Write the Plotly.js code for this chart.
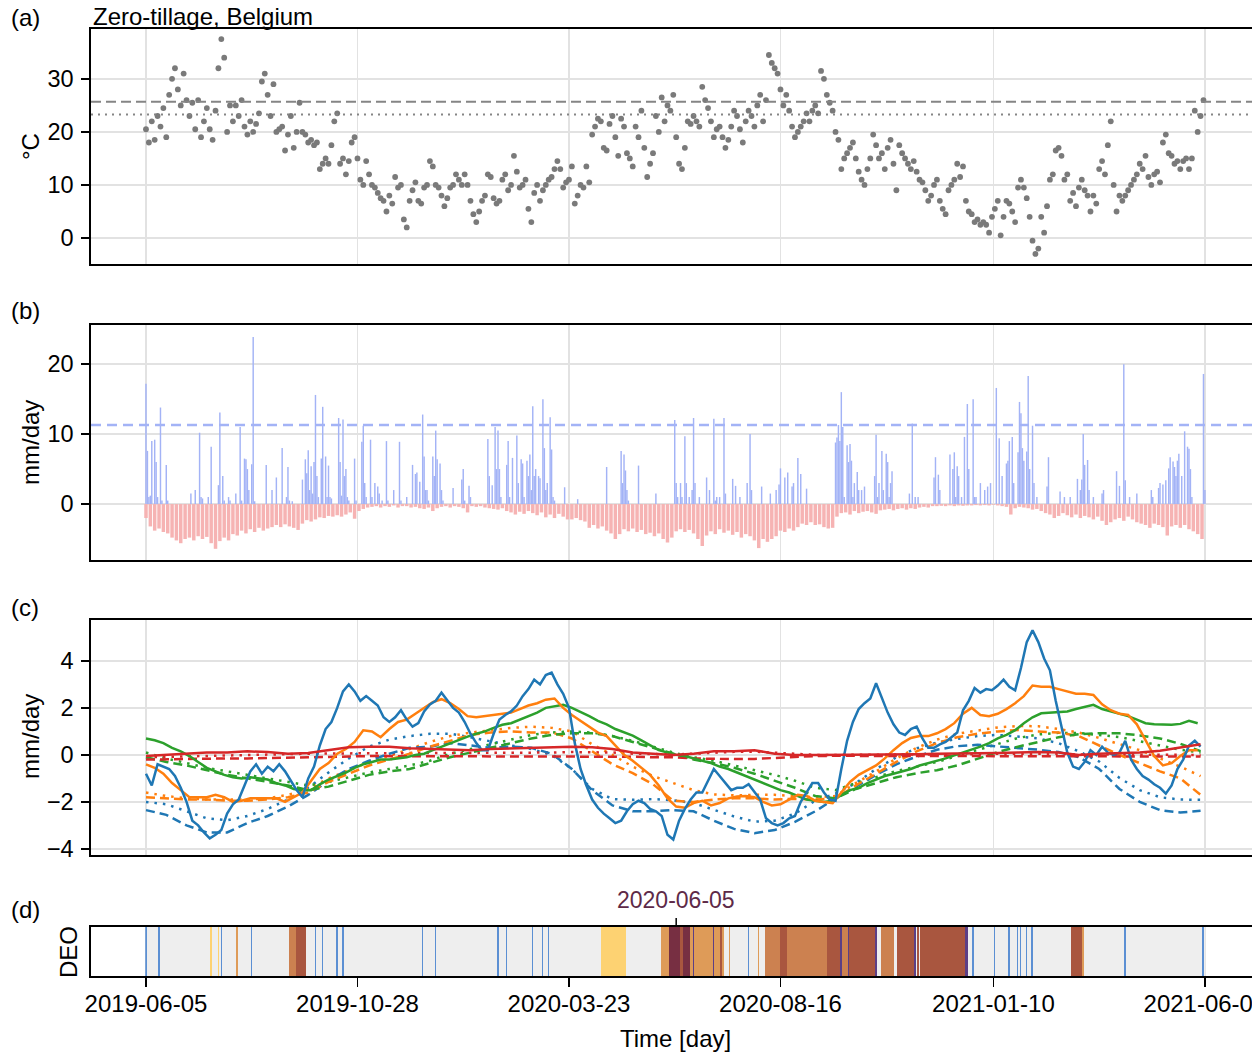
<!DOCTYPE html>
<html>
<head>
<meta charset="utf-8">
<script src="https://cdn.plot.ly/plotly-3.0.1.min.js"></script>
<style>
html,body{margin:0;padding:0;background:#fff;overflow:hidden;}
#chart{width:1252px;height:1052px;}
</style>
</head>
<body>
<div id="chart"></div>
<script>
// ---------------- DATA ----------------
// x values are days since 2019-06-05
const tickDays = [0, 146, 292, 438, 585, 731];
const tickLabels = ['2019-06-05', '2019-10-28', '2020-03-23', '2020-08-16', '2021-01-10', '2021-06-05'];

// (a) daily air temperature, sampled every 2 days
const tempStep = 2;
const tempC = [
20.5,18,22,18.5,23,21,24.5,19,27,30,
32,28,25,31,26,23,25.5,20.5,26,19,
22,24.5,20.5,18.5,24,32,37.5,34,20,25,
22,25,23,26,21,19.5,22,20,21.5,23.5,
29.5,31,27,23,29,20,20.5,21,16.5,19.5,
23,17,20,25.5,20,19.5,18,18.5,17.5,18,
13,14,15,14,17.5,22,23.5,14,15,12,
14.5,18,19,15,11,10,14.5,12,10,9.5,
8.5,7.5,7,5,8,6.5,11.5,9.5,10,3.5,
2,7,9,10.5,7,6.5,9.5,10,14.5,13.5,
10,9.5,8,6,7.5,9.5,10,12,11,10,
12,10,7,4.5,3,5,7,8,12,11.5,
7.5,6.5,7,11,12,9,10,15.5,12.5,9.5,
10,11,5.5,3,8.5,10,7,9,10,11,
11.5,13,14.5,13,9.5,10.5,11,13.5,6.5,8,
10,9.5,13.5,10.5,19.5,21,22.5,22,17,16.5,
21.5,23,19,15.5,22.5,21,16,15,13.5,21,
19,24,17,11.5,14,16,23,20,26.5,22,
25,24,27,19,14,13,17,22,21.5,23,
22,21,28.5,26,24.5,22,19,20.5,21,19,
17,18.5,21,24,23,20.5,18,22,24,23,
21,25,27,22,26,34.5,33,32,31,28,
25,27,24,21,19,20,21,22,23.5,22,
24,25,23.5,31.5,30,27,25.5,24,20,18.5,
13,15,16,17,18,15,12.5,11,10,13,
15,19.5,17.5,15,16,13,17,18.5,14,9,
17.5,16,15,14,13,14.5,12.5,11,10.5,9,
7,8,10,11,7,5.5,4.5,9,10,11,
14,11.5,13.5,7,5,4.5,3,3.5,2.5,3,
2.5,1,4,5.5,7,0.5,4,7,6.5,5,
3,9.5,11,9.5,7.5,4,-0.5,-3,-2,4,
1,6,11,12,16.5,17,15.5,11,12,7,
8.5,6,9.5,11,9,8,5,8,6.5,13,
14.5,12,17.5,22,10,5,8,7,8,9,
10,11,12,14,13,15.5,11.5,10,12,12.5,
10.5,18,19.5,16,15.5,14,14.5,13,14.5,15,
13,15,24,20,23,26
];
const tempUpper = 25.7;
const tempLower = 23.3;

// (b) precipitation events [day, mm/day]
const rainEvents = [
[0,17.2],[1,7.6],[2,1.0],[3,1.2],[4,9.0],[6,9.2],[7,6.0],[8,1.0],[10,13.8],[11,0.5],[14,5.6],[15,0.5],
[31,1.5],[34,2.0],[37,10.2],[38,1.0],[39,0.8],[43,1.0],[45,8.2],[50,2.7],[51,13.1],[53,4.0],[54,0.5],[57,1.0],[58,0.5],[62,1.5],[65,11.0],[66,0.5],[68,6.5],[69,6.4],[70,5.0],[71,2.0],[73,5.7],[74,23.9],[75,0.4],
[83,5.6],[87,2.0],[90,3.8],[94,8.0],[97,1.0],[98,5.3],[99,0.5],[101,0.4],
[108,3.5],[110,6.4],[111,4.4],[112,7.7],[113,2.0],[114,5.4],[115,1.5],[116,6.0],[117,15.6],[118,4.0],[119,1.0],[121,6.5],[122,13.9],[124,6.8],[125,1.0],[126,5.5],[127,1.0],[128,0.8],
[133,12.3],[134,6.0],[135,1.2],[136,12.1],[137,4.0],[138,5.0],[139,1.0],[140,0.5],[144,6.5],[145,0.5],[149,8.9],[150,11.2],[151,3.0],[152,1.0],[155,9.2],[156,1.0],[158,3.0],[160,2.5],[161,1.5],[163,0.5],[166,9.0],[167,0.5],[171,2.0],[175,8.9],[176,0.5],[180,1.0],
[184,5.6],[186,4.3],[187,4.5],[189,3.2],[191,12.8],[192,6.8],[193,2.0],[194,2.0],[195,0.5],[198,6.8],[199,4.0],[200,10.5],[201,6.4],[203,5.8],[204,2.0],[205,0.5],
[212,2.3],[218,3.5],[219,5.0],[220,0.5],[223,2.6],[224,1.0],
[236,9.3],[237,4.0],[239,2.7],[241,11.0],[242,5.0],[243,10.5],[244,5.0],[245,1.0],[249,5.6],[250,9.0],[251,1.0],[253,6.6],[256,9.8],[257,3.0],[259,6.4],[260,5.8],[261,1.0],[263,6.2],[264,4.0],[265,7.1],[266,2.0],[267,14.0],[268,4.0],[269,5.0],[271,4.0],[272,3.7],[274,15.0],[275,8.0],[276,2.0],[277,3.0],[279,12.4],[280,7.8],[281,1.0],[282,0.5],[289,2.4],[298,0.7],
[318,5.3],[328,7.6],[329,3.0],[330,7.1],[331,4.8],[332,2.0],[333,0.5],[340,5.5],[352,1.5],
[365,12.0],[366,3.0],[367,1.0],[369,3.0],[370,1.0],[372,9.7],[373,3.0],[375,1.0],[377,2.0],[378,12.3],[379,3.0],[382,1.0],
[387,3.8],[389,2.0],[392,12.2],[393,0.5],[394,1.0],[396,1.0],[399,12.3],[400,1.5],[405,3.6],[407,2.6],[410,1.0],[415,3.0],[417,10.0],[418,2.0],[425,2.5],[431,1.5],
[435,2.0],[437,2.8],[438,5.1],[441,3.8],[443,4.5],[446,2.5],[447,3.0],[450,6.6],[452,4.3],[456,2.2],
[476,8.8],[477,9.5],[478,11.3],[479,9.0],[480,16.0],[481,11.0],[482,1.0],[484,8.4],[485,6.0],[486,8.6],[487,6.2],[488,1.0],[489,3.0],[491,4.6],[492,2.0],[494,2.0],[496,2.5],
[503,4.0],[504,9.9],[505,1.0],[506,3.0],[508,7.6],[509,2.0],[511,7.2],[512,6.0],[513,1.0],[514,3.0],[515,4.7],[527,1.5],[529,11.5],[531,1.0],[533,1.0],
[544,3.8],[545,6.7],[547,4.2],[548,2.0],[555,7.1],[557,5.0],[558,7.4],[559,1.0],[560,5.4],[561,4.0],[563,1.0],[565,9.6],[567,14.3],[568,5.0],[571,15.0],[572,1.0],[573,1.0],[576,3.0],[579,2.0],[581,2.5],[583,3.0],
[587,16.6],[589,9.4],[591,4.0],[594,5.8],[595,6.2],[596,9.0],[598,9.6],[599,3.0],[602,7.4],[603,14.6],[604,13.0],[605,8.0],[606,6.2],[608,7.5],[609,18.3],[610,5.0],[612,11.2],[613,3.0],[615,1.0],
[622,2.5],[623,6.7],[631,1.8],[634,1.0],[638,1.0],[643,3.6],[645,2.0],[646,3.5],[647,10.0],[648,5.6],[650,6.3],[651,2.0],[654,1.0],[660,1.5],[661,2.0],
[670,4.7],[672,2.6],[675,20.0],[676,3.4],[679,1.0],[684,1.5],[694,2.0],[695,1.0],[699,2.3],[700,3.0],[702,2.8],[704,3.4],[706,5.1],[707,6.7],[709,6.1],[710,5.3],[711,4.0],[712,6.2],[713,7.2],[715,4.0],[717,10.4],[719,8.2],[720,7.9],[721,5.0],[722,1.0],[730,18.6],[731,2.0]
];
const rainThreshold = 11.3;

// (b) evapotranspiration (negative), sampled every 3 days
const etStep = 3;
const etMm = [
-2.0,-3.2,-3.8,-3.5,-4.0,-4.2,-4.8,-5.2,-5.6,-5.0,
-4.8,-5.2,-4.6,-5.0,-4.7,-5.6,-6.4,-5.3,-4.8,-5.2,
-4.3,-4.5,-3.8,-4.2,-3.6,-4.0,-3.4,-3.8,-3.5,-3.3,
-3.0,-3.3,-2.9,-3.2,-3.4,-3.7,-2.8,-2.3,-2.5,-2.2,
-1.9,-2.0,-1.7,-1.8,-1.6,-1.8,-1.5,-1.2,-2.1,-1.0,
-0.7,-0.5,-0.4,-0.3,-0.5,-0.3,-0.4,-0.2,-0.5,-0.3,
-0.3,-0.5,-0.4,-0.6,
-0.7,-0.5,-1.0,-0.6,-0.4,-0.3,-0.5,-0.3,-0.4,-0.6,
-1.2,-0.3,-0.4,-0.3,-0.5,-0.6,-0.7,-0.8,-0.6,-1.0,
-1.2,-1.5,-1.1,-1.4,-1.0,-1.3,-1.6,-1.2,-1.9,-1.5,
-2.0,-1.4,-1.8,-2.2,-2.2,-2.0,-2.3,-2.5,-3.4,-3.0,
-3.5,-3.2,-3.8,-4.2,-5.0,-4.3,-3.6,-3.9,-3.5,-4.0,
-3.7,-4.3,-4.1,-4.6,-4.2,-5.0,-5.5,-4.8,-3.9,-3.6,
-4.0,-3.7,-4.2,-5.0,-6.0,-4.5,-3.9,-4.3,-3.6,-4.1,
-3.8,-4.4,-4.0,-4.8,-4.3,-4.6,-5.2,-6.3,-5.0,-5.4,
-5.0,-4.6,-3.8,-4.0,-3.5,-3.8,-3.3,
-2.8,-3.0,-2.6,-3.0,-2.9,-3.3,-3.5,-3.4,-1.8,-1.3,
-1.2,-1.5,-1.0,-1.3,-1.1,-1.0,-1.2,-1.4,-0.9,-0.8,
-0.7,-0.9,-0.7,-0.6,-0.8,-0.6,-0.7,-0.5,-0.4,-0.5,
-0.3,-0.3,-0.25,-0.3,-0.2,-0.3,-0.2,-0.25,-0.2,-0.2,
-0.15,-0.2,-0.15,-0.2,-0.1,-0.2,-0.3,-0.4,-1.5,-0.6,
-0.4,-0.5,-0.6,-0.8,-0.7,-1.0,-1.3,-1.5,-2.0,-1.7,
-1.3,-1.6,-1.9,-1.5,-2.0,-1.7,-1.9,-2.2,-1.8,-2.4,
-3.0,-2.6,-2.2,-2.0,-2.4,-1.8,-2.2,-2.6,-2.8,-3.0,
-3.4,-2.8,-3.0,-3.3,-4.5,-3.2,-3.0,-3.4,-3.0,-3.6,
-3.9,-4.3,-5.0
];

// (c) water-balance series, mm/day
const blueSolidStep = 4;
const blueSolid = [
-0.8,-1.3,-0.4,-0.5,-0.6,-0.9,-1.4,-2.0,-2.8,-3.0,
-3.3,-3.55,-3.4,-3.2,-2.5,-2.1,-1.9,-1.3,-0.7,-0.4,
-0.8,-0.5,-0.7,-0.4,-0.7,-1.1,-1.5,-1.8,-1.0,-0.5,
0.4,1.1,1.4,2.0,2.7,3.0,2.7,2.3,2.5,2.3,
2.1,1.6,1.4,1.6,1.9,1.5,1.2,1.35,1.85,2.15,
2.3,2.65,2.3,2.0,1.8,1.4,0.9,0.5,0.2,0.2,
0.9,1.5,1.7,1.85,2.1,2.5,2.8,3.2,3.0,3.4,
3.5,3.0,2.6,2.0,0.5,-0.6,-1.3,-1.9,-2.25,-2.5,
-2.7,-2.9,-2.8,-2.4,-2.1,-1.95,-2.05,-2.3,-2.4,-2.6,
-3.4,-3.6,-2.8,-2.3,-1.9,-1.6,-1.6,-1.1,-0.6,-0.9,
-1.2,-1.5,-1.4,-1.4,-1.25,-1.6,-1.9,-2.7,-2.9,-3.0,
-2.9,-2.7,-2.6,-2.0,-1.6,-1.2,-1.2,-1.6,-1.9,-1.95,
-0.6,0.6,1.4,1.95,2.2,2.4,3.05,2.4,1.8,1.3,
0.95,0.85,1.1,1.2,0.7,0.3,0.3,0.45,0.55,0.75,
0.95,1.9,2.3,2.85,2.65,2.8,2.75,2.95,3.2,2.9,
2.75,3.7,4.8,5.3,4.8,4.1,3.6,2.3,1.2,0.1,
-0.5,-0.6,-0.3,0.2,0.0,0.35,0.1,0.0,0.1,0.6,
-0.2,-0.6,-0.9,-1.05,-1.25,-1.4,-1.65,-1.3,-0.6,-0.2,
0.4,0.6,0.35
];
const midSolidStep = 6;
const orangeSolid = [
-0.4,-0.55,-0.8,-1.2,-1.5,-1.8,-1.8,-1.8,-1.7,-1.8,
-2.0,-1.95,-1.85,-1.85,-1.85,-1.85,-2.0,-1.8,-1.6,-1.1,
-0.6,-0.35,0.05,0.25,0.55,1.05,1.0,0.75,1.1,1.4,
1.5,1.75,2.0,2.25,2.37,2.2,1.95,1.65,1.6,1.65,
1.7,1.75,1.8,1.95,2.1,2.2,2.35,2.4,2.0,1.7,
1.45,1.2,0.95,0.8,0.4,0.0,-0.25,-0.55,-0.85,-1.3,
-1.85,-2.2,-2.25,-2.05,-1.95,-2.15,-2.05,-1.85,-1.77,-1.75,
-1.8,-2.0,-2.15,-2.1,-1.9,-1.7,-1.75,-1.95,-2.0,-2.05,
-1.6,-1.15,-0.85,-0.65,-0.45,-0.15,0.2,0.5,0.72,0.8,
0.8,0.92,1.1,1.35,1.75,2.0,1.7,1.65,1.75,1.95,
2.2,2.5,2.95,2.9,2.9,2.8,2.7,2.6,2.6,2.55,
2.15,1.9,1.75,1.7,1.3,0.6,-0.05,-0.45,-0.35,-0.05,
0.2,0.2
];
const greenSolid = [
0.7,0.62,0.5,0.3,0.15,-0.05,-0.3,-0.55,-0.7,-0.85,
-0.95,-1.0,-0.95,-1.0,-1.05,-1.2,-1.3,-1.45,-1.5,-1.5,
-1.25,-1.05,-0.9,-0.75,-0.55,-0.4,-0.3,-0.2,-0.2,-0.15,
-0.1,0.0,0.05,0.2,0.35,0.5,0.65,0.78,0.9,1.0,
1.15,1.28,1.35,1.5,1.65,1.8,2.0,2.08,2.13,2.0,
1.84,1.65,1.45,1.3,1.1,0.95,0.82,0.62,0.4,0.2,
0.1,0.0,-0.05,-0.15,-0.25,-0.35,-0.5,-0.6,-0.75,-0.9,
-1.05,-1.2,-1.35,-1.5,-1.6,-1.75,-1.9,-1.95,-2.0,-1.95,
-1.7,-1.5,-1.4,-1.2,-1.05,-0.9,-0.8,-0.7,-0.6,-0.45,
-0.35,-0.27,-0.15,-0.02,0.1,0.2,0.35,0.5,0.7,0.85,
1.05,1.35,1.6,1.77,1.8,1.8,1.85,1.95,2.05,2.13,
1.95,1.85,1.72,1.65,1.5,1.35,1.3,1.28,1.28,1.32,
1.45,1.35
];
const smoothStep = 14;
const redSolid = [
-0.05,0.0,0.05,0.1,0.1,0.15,0.12,0.05,0.08,0.2,
0.33,0.35,0.35,0.28,0.25,0.22,0.2,0.25,0.27,0.3,
0.33,0.35,0.32,0.25,0.1,0.05,0.0,0.05,0.15,0.15,
0.2,0.05,0.0,0.0,0.0,0.0,0.0,0.02,0.03,0.05,
0.05,0.07,0.08,0.1,0.12,0.1,0.0,0.05,0.08,0.1,
0.18,0.33,0.45
];
const blueDashed = [
-2.35,-2.55,-3.0,-3.3,-3.3,-2.9,-2.6,-2.2,-1.7,-1.1,
-0.6,-0.25,0.05,0.3,0.35,0.5,0.4,0.3,0.35,0.3,
0.05,-0.6,-1.5,-2.15,-2.4,-2.4,-2.35,-2.4,-2.8,-3.15,
-3.33,-3.2,-2.85,-2.4,-1.85,-1.35,-0.85,-0.4,-0.07,0.22,
0.37,0.43,0.36,0.3,0.22,0.12,-0.1,-0.6,-1.45,-2.0,
-2.35,-2.45,-2.38
];
const blueDotted = [
-2.0,-2.1,-2.4,-2.7,-2.78,-2.6,-2.3,-1.9,-1.4,-0.75,
-0.15,0.35,0.65,0.8,0.9,0.9,0.75,0.57,0.4,0.25,
0.0,-0.6,-1.45,-1.88,-1.91,-1.88,-1.93,-2.05,-2.35,-2.62,
-2.84,-2.8,-2.5,-1.95,-1.65,-1.2,-0.6,-0.1,0.28,0.52,
0.68,0.8,0.85,0.78,0.7,0.5,0.15,-0.28,-0.98,-1.5,
-1.8,-1.9,-1.91
];
const orangeDashed = [
-1.8,-1.85,-1.9,-1.9,-1.95,-1.95,-1.9,-1.8,-1.6,-1.15,
-0.8,-0.45,-0.2,0.05,0.35,0.6,0.85,0.95,1.0,0.95,
0.95,0.7,0.15,-0.4,-0.78,-1.25,-1.95,-2.0,-1.9,-1.85,
-1.85,-1.9,-1.87,-1.9,-1.85,-1.3,-0.8,-0.3,0.15,0.5,
0.75,0.9,1.0,1.06,1.0,0.95,0.8,0.4,0.0,-0.35,
-0.7,-1.0,-1.7
];
const orangeDotted = [
-1.6,-1.75,-1.85,-1.9,-1.9,-1.9,-1.85,-1.7,-1.45,-1.0,
-0.65,-0.3,-0.05,0.25,0.55,0.8,0.95,1.05,1.15,1.2,
1.15,1.0,0.45,0.0,-0.5,-0.9,-1.2,-1.5,-1.68,-1.72,
-1.7,-1.7,-1.75,-1.8,-1.75,-1.2,-0.7,-0.15,0.3,0.65,
0.9,1.05,1.17,1.23,1.22,1.1,0.95,0.72,0.45,0.2,
-0.15,-0.5,-0.9
];
const greenDashed = [
-0.1,-0.3,-0.45,-0.65,-0.85,-1.0,-1.15,-1.3,-1.5,-1.35,
-1.1,-0.85,-0.7,-0.6,-0.35,-0.1,0.1,0.3,0.5,0.7,
0.85,0.92,0.92,0.8,0.55,0.3,0.05,-0.2,-0.35,-0.55,
-0.8,-1.1,-1.4,-1.75,-1.85,-1.45,-1.2,-0.95,-0.78,-0.65,
-0.45,-0.15,0.12,0.35,0.55,0.75,0.88,0.92,0.92,0.83,
0.7,0.47,0.16
];
const greenDotted = [
0.1,-0.15,-0.35,-0.55,-0.7,-0.85,-1.0,-1.15,-1.3,-1.15,
-0.95,-0.75,-0.6,-0.45,-0.25,0.05,0.25,0.45,0.65,0.85,
0.95,1.0,0.95,0.8,0.6,0.35,0.1,-0.1,-0.25,-0.45,
-0.65,-0.85,-1.1,-1.4,-1.5,-1.2,-0.95,-0.68,-0.5,-0.3,
-0.05,0.2,0.48,0.72,0.87,0.94,0.93,0.85,0.76,0.58,
0.4,0.22,0.1
];
const redDashed = [
-0.2,-0.18,-0.18,-0.17,-0.15,-0.15,-0.14,-0.13,-0.12,-0.1,
-0.07,-0.05,-0.05,-0.07,-0.07,-0.07,-0.06,-0.05,-0.05,-0.05,
-0.06,-0.07,-0.07,-0.07,-0.08,-0.1,-0.1,-0.15,-0.18,-0.18,
-0.17,-0.12,-0.07,-0.05,-0.04,-0.04,-0.04,-0.04,-0.04,-0.04,
-0.04,-0.05,-0.05,-0.05,-0.05,-0.06,-0.06,-0.07,-0.07,-0.07,
-0.07,-0.07,-0.07
];
const redDotted = [
-0.1,-0.08,-0.05,-0.02,0.0,0.02,0.03,0.04,0.05,0.06,
0.07,0.08,0.08,0.08,0.08,0.08,0.08,0.09,0.1,0.1,
0.1,0.12,0.12,0.1,0.05,0.03,0.02,0.05,0.1,0.13,
0.14,0.1,0.03,0.0,0.0,0.0,0.0,0.0,0.01,0.02,
0.02,0.03,0.05,0.05,0.06,0.05,0.02,0.01,0.0,0.0,
0.0,0.0,0.0
];

// (d) DEO classes: runs [firstDay, lastDay, class]; all other days are class 0
const deoLastDay = 731;
const deoRuns = [
[0,0,1],[9,9,1],[45,45,2],[50,50,2],[52,52,1],[63,63,3],[73,73,1],
[99,103,4],[104,110,5],[117,117,1],[122,122,1],[132,132,1],[136,136,1],
[191,191,1],[200,200,1],[243,243,1],[249,249,1],[267,267,1],[274,274,1],[278,278,1],
[315,331,2],
[356,361,3],[362,368,6],[369,370,5],[371,375,6],[376,377,3],[378,378,7],[379,391,3],[392,392,7],[393,396,3],[397,397,5],[398,399,3],[403,403,3],[416,416,1],[423,423,3],
[428,437,4],[438,442,5],[443,470,4],[471,479,5],[480,480,7],[481,484,4],[485,485,7],[486,503,5],[504,504,7],[508,516,4],[519,530,5],[531,531,7],[533,533,5],[535,565,5],[566,567,7],
[571,571,1],[586,586,1],[596,596,1],[602,602,1],[604,604,1],[608,608,1],[612,612,1],
[639,646,5],[647,647,3],[676,676,1],[730,730,1]
];
const deoColors = ['#eeeeee','#5b8fd3','#fdd272','#de9b58','#cc8150','#a9563f','#772f42','#5c3f85'];
const highlightDay = 366;
const highlightLabel = '2020-06-05';

// ---------------- BUILD ----------------
const FONT = 'Liberation Sans, Arial, Helvetica, sans-serif';
const xRange = [-37.96, 763.5];
const gridC = '#e2e2e2';

const seq = (arr, step) => arr.map((_, i) => i * step);

const traces = [];
traces.push({type:'scatter', mode:'markers', x: seq(tempC, tempStep), y: tempC,
  marker:{size:5.8, color:'#7a7a7a'}, xaxis:'x', yaxis:'y', hoverinfo:'skip'});

traces.push({type:'bar', x: seq(etMm, etStep), y: etMm, width: etStep*0.8,
  marker:{color:'#f6b3b3', line:{width:0}}, xaxis:'x2', yaxis:'y2', hoverinfo:'skip'});
traces.push({type:'bar', x: rainEvents.map(r => r[0]), y: rainEvents.map(r => r[1]), width: 1,
  marker:{color:'#a3b3f6', line:{width:0}}, xaxis:'x2', yaxis:'y2', hoverinfo:'skip'});

const C = {blue:'#1f77b4', orange:'#ff7f0e', green:'#2ca02c', red:'#d62728'};
const DOT = '2.5px,6px', DASH = '9px,5px';
function line(arr, step, color, dash) {
  return {type:'scatter', mode:'lines', x: seq(arr, step), y: arr,
    line:{color: color, width: 2.5, dash: dash}, xaxis:'x3', yaxis:'y3', hoverinfo:'skip'};
}
traces.push(line(blueDotted, smoothStep, C.blue, DOT));
traces.push(line(orangeDotted, smoothStep, C.orange, DOT));
traces.push(line(greenDotted, smoothStep, C.green, DOT));
traces.push(line(redDotted, smoothStep, C.red, DOT));
traces.push(line(blueDashed, smoothStep, C.blue, DASH));
traces.push(line(orangeDashed, smoothStep, C.orange, DASH));
traces.push(line(greenDashed, smoothStep, C.green, DASH));
traces.push(line(redDashed, smoothStep, C.red, DASH));
traces.push(line(greenSolid, midSolidStep, C.green, 'solid'));
traces.push(line(orangeSolid, midSolidStep, C.orange, 'solid'));
traces.push(line(blueSolid, blueSolidStep, C.blue, 'solid'));
traces.push(line(redSolid, smoothStep, C.red, 'solid'));

const deoDays = Array.from({length: deoLastDay + 1}, (_, d) => d);
const deoZ = deoDays.map(() => 0);
deoRuns.forEach(([s, e, c]) => { for (let d = s; d <= e; d++) deoZ[d] = c; });
const nC = deoColors.length;
const deoScale = [];
deoColors.forEach((c, i) => { deoScale.push([i / nC, c]); deoScale.push([(i + 1) / nC, c]); });
traces.push({type:'heatmap', x: deoDays, y:[0], z:[deoZ], zmin:-0.5, zmax:nC-0.5,
  colorscale: deoScale, showscale:false, zsmooth:false, xaxis:'x4', yaxis:'y4', hoverinfo:'skip'});

// pixel -> paper helpers (plot area spans whole page height, x from 91 to 1252)
const H = 1052, L = 91, W = 1252 - 91;
const py = p => 1 - p / H;
const px = p => (p - L) / W;

function xAx(anchor, showLabels) {
  return {anchor: anchor, domain:[0,1], range: xRange, tickvals: tickDays, ticktext: tickLabels,
    showgrid:true, gridcolor: gridC, gridwidth:1.5, zeroline:false,
    showline:true, linecolor:'#000', linewidth:1.6, mirror:true,
    ticks: showLabels ? 'outside' : '', ticklen:9, tickwidth:1.5, tickcolor:'#000',
    showticklabels: showLabels, ticklabeloverflow:'allow', ticklabelstandoff: -3,
    tickfont:{family:FONT, size:24, color:'#000'}};
}
function yAx(anchor, top, bottom, range, tv) {
  return {anchor: anchor, domain:[py(bottom), py(top)], range: range, tickvals: tv,
    showgrid:true, gridcolor: gridC, gridwidth:1.5, zeroline:false,
    showline:true, linecolor:'#000', linewidth:1.6, mirror:false,
    ticks:'outside', ticklen:8, tickwidth:1.5, tickcolor:'#000', ticklabelstandoff: 3,
    tickfont:{family:FONT, size:23.5, color:'#000'}};
}

const yd = yAx('x4', 927, 976, [-0.5, 0.5], []);
yd.showgrid = false; yd.ticks = ''; yd.showticklabels = false;

const ann = (text, x, y, opts) => Object.assign({text: text, x: x, y: y, xref:'paper', yref:'paper',
  showarrow:false, xanchor:'center', yanchor:'middle', font:{family:FONT, size:24, color:'#000'}}, opts || {});

const layout = {
  width:1252, height:1052, margin:{l:L, r:0, t:0, b:0},
  paper_bgcolor:'#fff', plot_bgcolor:'#fff', showlegend:false, barmode:'overlay',
  font:{family:FONT, size:23, color:'#000'},
  xaxis: xAx('y', false), xaxis2: xAx('y2', false), xaxis3: xAx('y3', false), xaxis4: xAx('y4', true),
  yaxis: yAx('x', 29, 264, [-4.9, 39.4], [0,10,20,30]),
  yaxis2: yAx('x2', 325, 560, [-8, 25.6], [0,10,20]),
  yaxis3: yAx('x3', 620, 855, [-4.26, 5.74], [-4,-2,0,2,4]),
  yaxis4: yd,
  shapes: [
    {type:'line', xref:'paper', yref:'y', x0:0, x1:1, y0:tempUpper, y1:tempUpper, line:{color:'#858585', width:2, dash:'10px,5px'}},
    {type:'line', xref:'paper', yref:'y', x0:0, x1:1, y0:tempLower, y1:tempLower, line:{color:'#858585', width:2, dash:'2px,5px'}},
    {type:'line', xref:'paper', yref:'y2', x0:0, x1:1, y0:rainThreshold, y1:rainThreshold, line:{color:'#a3b3f6', width:2.5, dash:'10px,6px'}},
    {type:'line', xref:'x4', yref:'paper', x0:highlightDay, x1:highlightDay, y0:py(927), y1:py(918), line:{color:'#000', width:1.5}}
  ],
  annotations: [
    ann('(a)', px(25), py(17)),
    ann('Zero-tillage, Belgium', 0, py(16), {xanchor:'left'}),
    ann('(b)', px(25), py(311)),
    ann('(c)', px(25), py(607)),
    ann('(d)', px(25), py(909)),
    ann('°C', px(30), py(147), {textangle:-90}),
    ann('mm/day', px(30), py(443), {textangle:-90}),
    ann('mm/day', px(30), py(737), {textangle:-90}),
    ann('DEO', px(68), py(952), {textangle:-90}),
    ann('Time [day]', 365.5, py(1038), {xref:'x4'}),
    ann(highlightLabel, highlightDay, py(900), {xref:'x4', font:{family:FONT, size:23, color:'#5e2a48'}})
  ]
};

Plotly.newPlot('chart', traces, layout, {staticPlot:true, displayModeBar:false});
</script>
</body>
</html>
